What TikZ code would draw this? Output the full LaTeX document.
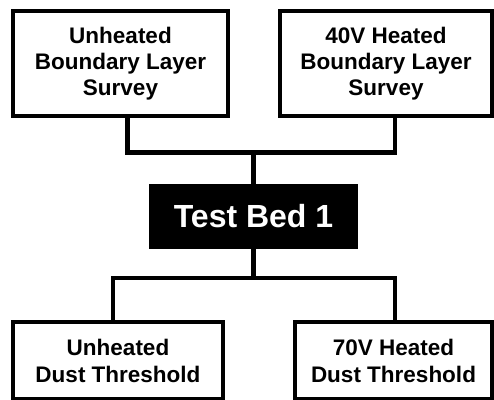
\documentclass[tikz,border=0pt]{standalone}
\usepackage{fontspec}
\setmainfont{Liberation Sans}
\usepackage{tikz}
\usetikzlibrary{positioning}

\begin{document}
\begin{tikzpicture}[x=1pt, y=-1pt,
    survey box/.style={
        draw, line width=4pt,
        inner sep=0pt, align=center,
        font=\bfseries\fontsize{22.5}{26}\selectfont
    },
    dust box/.style={
        survey box,
        font=\bfseries\fontsize{22.5}{27}\selectfont
    },
    bed box/.style={
        draw, fill=black, text=white, line width=4pt,
        inner sep=0pt,
        font=\bfseries\fontsize{32}{38}\selectfont
    },
    link/.style={black, line width=4.5pt}
]
				\useasboundingbox (0,0) rectangle (494,399);
				\fill[white] (0,0) rectangle (494,399);
				\clip (0,0) rectangle (494,399);
				
				\node[survey box, minimum width=215pt, minimum height=105pt] (uhbl) at (120.5,63.5) {Unheated\\Boundary Layer\\Survey};
				\node[survey box, minimum width=212pt, minimum height=105pt] (hbl) at (386,63.5) {40V Heated\\Boundary Layer\\Survey};
				\node[bed box, minimum width=205pt, minimum height=61pt] (tb) at (253.5,216.5) {Test Bed 1};
				\node[dust box, minimum width=210pt, minimum height=77pt] (uhdt) at (118,360.5) {Unheated\\Dust Threshold};
				\node[dust box, minimum width=197pt, minimum height=77pt] (hdt) at (393.5,360.5) {70V Heated\\Dust Threshold};
				
				\coordinate (lup) at (127.5,152.5);
				\coordinate (rup) at (395,152.5);
				\coordinate (ldown) at (113,278);
				\coordinate (rdown) at (395,278);
				
				\draw[link] (uhbl.south -| lup) -- (lup) -- (rup) -- (hbl.south -| rup);
				\draw[link] (tb.north) -- (tb.north |- lup);
				\draw[link] (tb.south) -- (tb.south |- ldown);
				\draw[link] (uhdt.north -| ldown) -- (ldown) -- (rdown) -- (hdt.north -| rdown);
				
			\end{tikzpicture}
\end{document}
